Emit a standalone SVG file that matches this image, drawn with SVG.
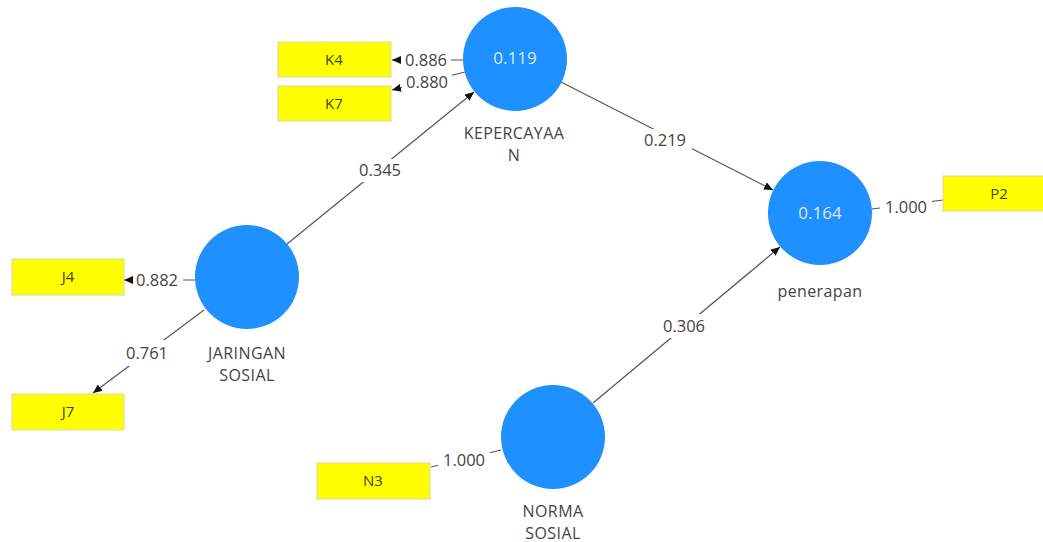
<svg xmlns="http://www.w3.org/2000/svg" width="1043" height="542" viewBox="0 0 1043 542">
<style>
.lv{fill:#1E90FF;}
.lvt{font-family:"Open Sans","Liberation Sans",sans-serif;font-size:17px;fill:#dce9f7;text-anchor:middle;}
.nl{font-family:"Open Sans","Liberation Sans",sans-serif;font-size:16px;letter-spacing:0.4px;fill:#444;text-anchor:middle;}
.ind{fill:#FFFF00;stroke:#d8d8a0;stroke-width:1;}
.indt{font-family:"Open Sans","Liberation Sans",sans-serif;font-size:15px;fill:#444400;text-anchor:middle;}
.ln{stroke:#555;stroke-width:1.2;fill:none;}
.lb{font-family:"Open Sans","Liberation Sans",sans-serif;font-size:16.5px;fill:#444;text-anchor:middle;}
.bg{fill:#fff;}
</style>
<defs>
<marker id="arr" markerWidth="9" markerHeight="8" refX="9" refY="4" orient="auto" markerUnits="userSpaceOnUse">
<path d="M0,0 L9,4 L0,8 z" fill="#111"/>
</marker>
</defs>
<rect width="1043" height="542" fill="#fff"/>
<g id="connectors">
<line class="ln" x1="463" y1="60" x2="392" y2="60" marker-end="url(#arr)"/>
<line class="ln" x1="465" y1="72" x2="392" y2="90" marker-end="url(#arr)"/>
<line class="ln" x1="287" y1="244" x2="474" y2="92" marker-end="url(#arr)"/>
<line class="ln" x1="561" y1="82" x2="773" y2="190" marker-end="url(#arr)"/>
<line class="ln" x1="593" y1="403" x2="780" y2="247" marker-end="url(#arr)"/>
<line class="ln" x1="195" y1="280" x2="124" y2="280" marker-end="url(#arr)"/>
<line class="ln" x1="204" y1="310" x2="93" y2="393" marker-end="url(#arr)"/>
<line class="ln" x1="501" y1="450" x2="431" y2="467"/>
<line class="ln" x1="872" y1="209" x2="943" y2="200"/>
<rect class="bg" x="401" y="51" width="50" height="19"/>
<rect class="bg" x="402" y="73" width="50" height="18"/>
<rect class="bg" x="353" y="159" width="54" height="23"/>
<rect class="bg" x="638" y="129" width="54" height="23"/>
<rect class="bg" x="133" y="270" width="50" height="19"/>
<rect class="bg" x="120" y="340" width="54" height="26"/>
<rect class="bg" x="657" y="314" width="54" height="24"/>
<rect class="bg" x="438" y="451" width="52" height="18"/>
<rect class="bg" x="880" y="198" width="52" height="18"/>
<text class="lb" x="426" y="66">0.886</text>
<text class="lb" x="427" y="88">0.880</text>
<text class="lb" x="380" y="176">0.345</text>
<text class="lb" x="665" y="146">0.219</text>
<text class="lb" x="157" y="286">0.882</text>
<text class="lb" x="147" y="359">0.761</text>
<text class="lb" x="684" y="332">0.306</text>
<text class="lb" x="464" y="466">1.000</text>
<text class="lb" x="906" y="213">1.000</text>
</g>
<g id="kepercayaan">
<circle class="lv" cx="515" cy="59" r="52"/>
<text class="lvt" x="515" y="64">0.119</text>
<text class="nl" x="514" y="139">KEPERCAYAA</text>
<text class="nl" x="514" y="161">N</text>
</g>
<g id="jaringan-sosial">
<circle class="lv" cx="247" cy="277" r="52"/>
<text class="nl" x="247" y="359">JARINGAN</text>
<text class="nl" x="247" y="381">SOSIAL</text>
</g>
<g id="norma-sosial">
<circle class="lv" cx="553" cy="437" r="52"/>
<text class="nl" x="553" y="517">NORMA</text>
<text class="nl" x="553" y="539">SOSIAL</text>
</g>
<g id="penerapan">
<circle class="lv" cx="820" cy="213" r="52"/>
<text class="lvt" x="820" y="219">0.164</text>
<text class="nl" x="820" y="297">penerapan</text>
</g>
<g id="K4"><rect class="ind" x="278" y="42" width="113" height="35"/><text class="indt" x="334" y="65">K4</text></g>
<g id="K7"><rect class="ind" x="278" y="86" width="113" height="35"/><text class="indt" x="334" y="109">K7</text></g>
<g id="J4"><rect class="ind" x="12" y="259" width="112" height="36"/><text class="indt" x="68" y="282">J4</text></g>
<g id="J7"><rect class="ind" x="12" y="394" width="112" height="36"/><text class="indt" x="68" y="417">J7</text></g>
<g id="N3"><rect class="ind" x="317" y="463" width="113" height="36"/><text class="indt" x="373" y="486">N3</text></g>
<g id="P2"><rect class="ind" x="943" y="176" width="112" height="35"/><text class="indt" x="999" y="199">P2</text></g>
</svg>
